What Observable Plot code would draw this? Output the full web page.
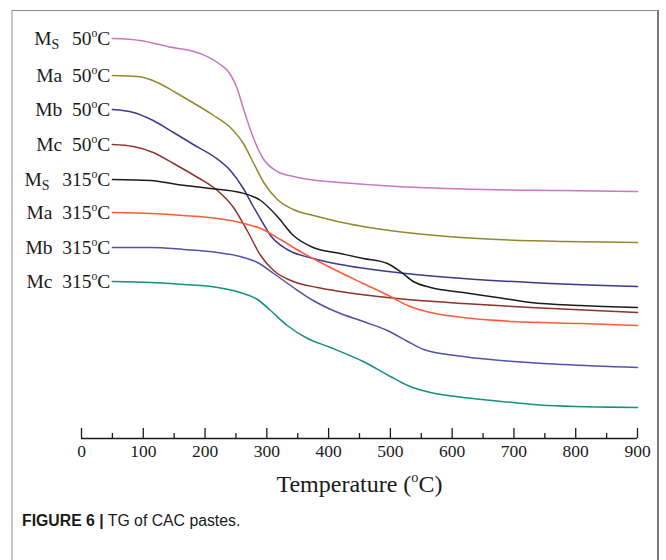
<!DOCTYPE html>
<html><head><meta charset="utf-8">
<script src="https://cdn.jsdelivr.net/npm/d3@7"></script>
<script src="https://cdn.jsdelivr.net/npm/@observablehq/plot@0.6"></script>
<style>
body{margin:0;background:#fff;}
#wrap{position:relative;width:666px;height:560px;overflow:hidden;background:#fff;}
#frame{position:absolute;left:11px;top:10px;width:648px;height:600px;border-top:1px solid #8a8a8a;border-left:2px solid #c6c6c6;border-right:2px solid #7a7a7a;box-sizing:border-box;}
#chart{position:absolute;left:0;top:0;}
#caption{position:absolute;left:22px;top:512px;font-family:"Liberation Sans",Arial,sans-serif;font-size:15.8px;color:#1a1a1a;white-space:nowrap;}
#caption b{font-weight:bold;}
</style></head>
<body>
<div id="wrap"><div id="frame"></div><div id="chart"></div>
<div id="caption"><b>FIGURE 6 |</b> TG of CAC pastes.</div></div>
<script>
// Series names, labels and colours
const seriesNames = ["Ms 50", "Ma 50", "Mb 50", "Mc 50", "Ms 315", "Ma 315", "Mb 315", "Mc 315"];
const seriesLabels = ["M_S  50^oC", "Ma  50^oC", "Mb  50^oC", "Mc  50^oC", "M_S  315^oC", "Ma  315^oC", "Mb  315^oC", "Mc  315^oC"];
const seriesColors = ["#c877c2", "#8e8a2e", "#3c3a8c", "#8c3428", "#1c1c1c", "#ff5a3a", "#5252a8", "#15907e"];

// Temperature (°C) and vertically offset TG curve values (arbitrary stacked units)
const msT50 = [50, 95, 139, 192, 220, 241, 252, 262, 278, 294, 317, 343, 381, 418, 511, 650, 779, 900];
const msY50 = [400, 398, 392, 385, 376, 364, 350, 330, 301, 280, 267, 262, 258, 256, 252, 249, 248, 247];

const maT50 = [50, 91, 123, 155, 188, 214, 241, 262, 278, 295, 317, 343, 382, 414, 456, 511, 592, 673, 780, 900];
const maY50 = [363, 362, 356, 345, 333, 323, 311, 295, 276, 256, 239, 229, 222, 217, 212, 207, 202, 199, 197, 196];

const mbT50 = [50, 84, 116, 149, 181, 214, 241, 262, 278, 295, 306, 333, 375, 419, 511, 618, 727, 900];
const mbY50 = [329, 326, 318, 306, 294, 282, 268, 250, 232, 214, 203, 189, 180, 174, 166, 160, 156, 152];

const mcT50 = [50, 84, 116, 149, 188, 220, 246, 269, 290, 311, 343, 382, 419, 511, 618, 727, 900];
const mcY50 = [294, 292, 286, 275, 261, 248, 231, 207, 183, 168, 157, 151, 147, 140, 135, 131, 126];

const msT315 = [50, 112, 155, 209, 257, 290, 317, 343, 375, 419, 456, 495, 516, 537, 565, 618, 673, 727, 808, 900];
const msY315 = [259, 258, 254, 250, 246, 238, 222, 203, 191, 185, 180, 175, 167, 157, 151, 146, 141, 136, 133, 131];

const maT315 = [50, 112, 165, 220, 257, 290, 322, 354, 387, 419, 456, 500, 528, 565, 618, 699, 808, 900];
const maY315 = [226, 225, 223, 220, 216, 210, 199, 187, 176, 166, 155, 142, 133, 126, 121, 117, 115, 113];

const mbT315 = [50, 112, 165, 220, 257, 285, 311, 343, 375, 411, 456, 495, 528, 554, 618, 699, 780, 900];
const mbY315 = [191, 191, 189, 186, 182, 176, 165, 151, 138, 127, 117, 108, 97, 89, 82, 77, 74, 71];

const mcT315 = [50, 112, 165, 220, 257, 285, 306, 333, 366, 403, 456, 500, 528, 565, 618, 699, 754, 900];
const mcY315 = [157, 156, 154, 151, 146, 139, 128, 113, 100, 91, 77, 62, 53, 46, 41, 36, 33, 31];

// Axis ticks
const xTickValues = [0, 100, 200, 300, 400, 500, 600, 700, 800, 900];
const xMinorTicks = [50, 150, 250, 350, 450, 550, 650, 750, 850];
const xAxisTitle = "Temperature (^oC)";

const allT = [msT50, maT50, mbT50, mcT50, msT315, maT315, mbT315, mcT315];
const allY = [msY50, maY50, mbY50, mcY50, msY315, maY315, mbY315, mcY315];

const rows = [];
seriesNames.forEach((name, i) => {
  allT[i].forEach((t, j) => rows.push({series: name, T: t, v: allY[i][j]}));
});
const starts = seriesNames.map((name, i) => ({series: name, T: allT[i][0], v: allY[i][0], label: seriesLabels[i]}));

const H = 500, MT = 10, MB = 62;
const frameH = H - MT - MB;
const serif = "'Liberation Serif', 'Times New Roman', serif";

const chart = Plot.plot({
  width: 666,
  height: H,
  marginLeft: 81,
  marginRight: 29,
  marginTop: MT,
  marginBottom: MB,
  style: {background: "transparent", fontFamily: serif, color: "#1a1a1a"},
  x: {domain: [0, 900]},
  y: {domain: [0, 428], axis: null},
  color: {domain: seriesNames, range: seriesColors},
  marks: [
    Plot.ruleY([0], {stroke: "#1a1a1a", strokeWidth: 1.4}),
    Plot.tickX(xTickValues, {x: d => d, insetTop: frameH - 10, stroke: "#1a1a1a", strokeWidth: 1.3}),
    Plot.tickX(xMinorTicks, {x: d => d, insetTop: frameH - 5, stroke: "#1a1a1a", strokeWidth: 1.3}),
    Plot.axisX({ticks: xTickValues, tickSize: 0, tickPadding: 6, fontSize: 17.5, fontFamily: serif, label: null, tickFormat: d => String(d)}),
    Plot.text([xAxisTitle], {text: d => d, frameAnchor: "bottom", dy: 53, fontSize: 24, fontFamily: serif, fill: "#1a1a1a"}),
    Plot.line(rows, {x: "T", y: "v", z: "series", stroke: "series", strokeWidth: 1.5, curve: "monotone-x"}),
    Plot.text(starts, {x: "T", y: "v", text: "label", textAnchor: "end", dx: -2, fontSize: 19.5, fontFamily: serif, fill: "#1a1a1a"})
  ]
});

// Rich text: "_X" -> subscript, "^X" -> superscript
function richify(el) {
  const s = el.textContent;
  if (!/[_^]/.test(s)) return;
  const fs = parseFloat(getComputedStyle(el).fontSize) || 16;
  el.textContent = "";
  const ns = "http://www.w3.org/2000/svg";
  let pending = 0;
  const re = /([_^])(.)|([^_^]+)/g;
  let m;
  while ((m = re.exec(s))) {
    const ts = document.createElementNS(ns, "tspan");
    if (m[1]) {
      const shift = m[1] === "_" ? fs * 0.22 : -fs * 0.38;
      ts.textContent = m[2];
      ts.setAttribute("font-size", (m[1] === "_" ? fs * 0.72 : fs * 0.6).toFixed(1));
      ts.setAttribute("dy", (shift + pending).toFixed(2));
      pending = -shift;
    } else {
      ts.textContent = m[3].replace(/ /g, "\u00a0");
      if (pending) ts.setAttribute("dy", pending.toFixed(2));
      if (/^\s/.test(m[3])) ts.setAttribute("dx", (fs * 0.15).toFixed(1));
      pending = 0;
    }
    el.appendChild(ts);
  }
}
document.getElementById("chart").appendChild(chart);
chart.querySelectorAll("text").forEach(richify);
</script>
</body></html>
